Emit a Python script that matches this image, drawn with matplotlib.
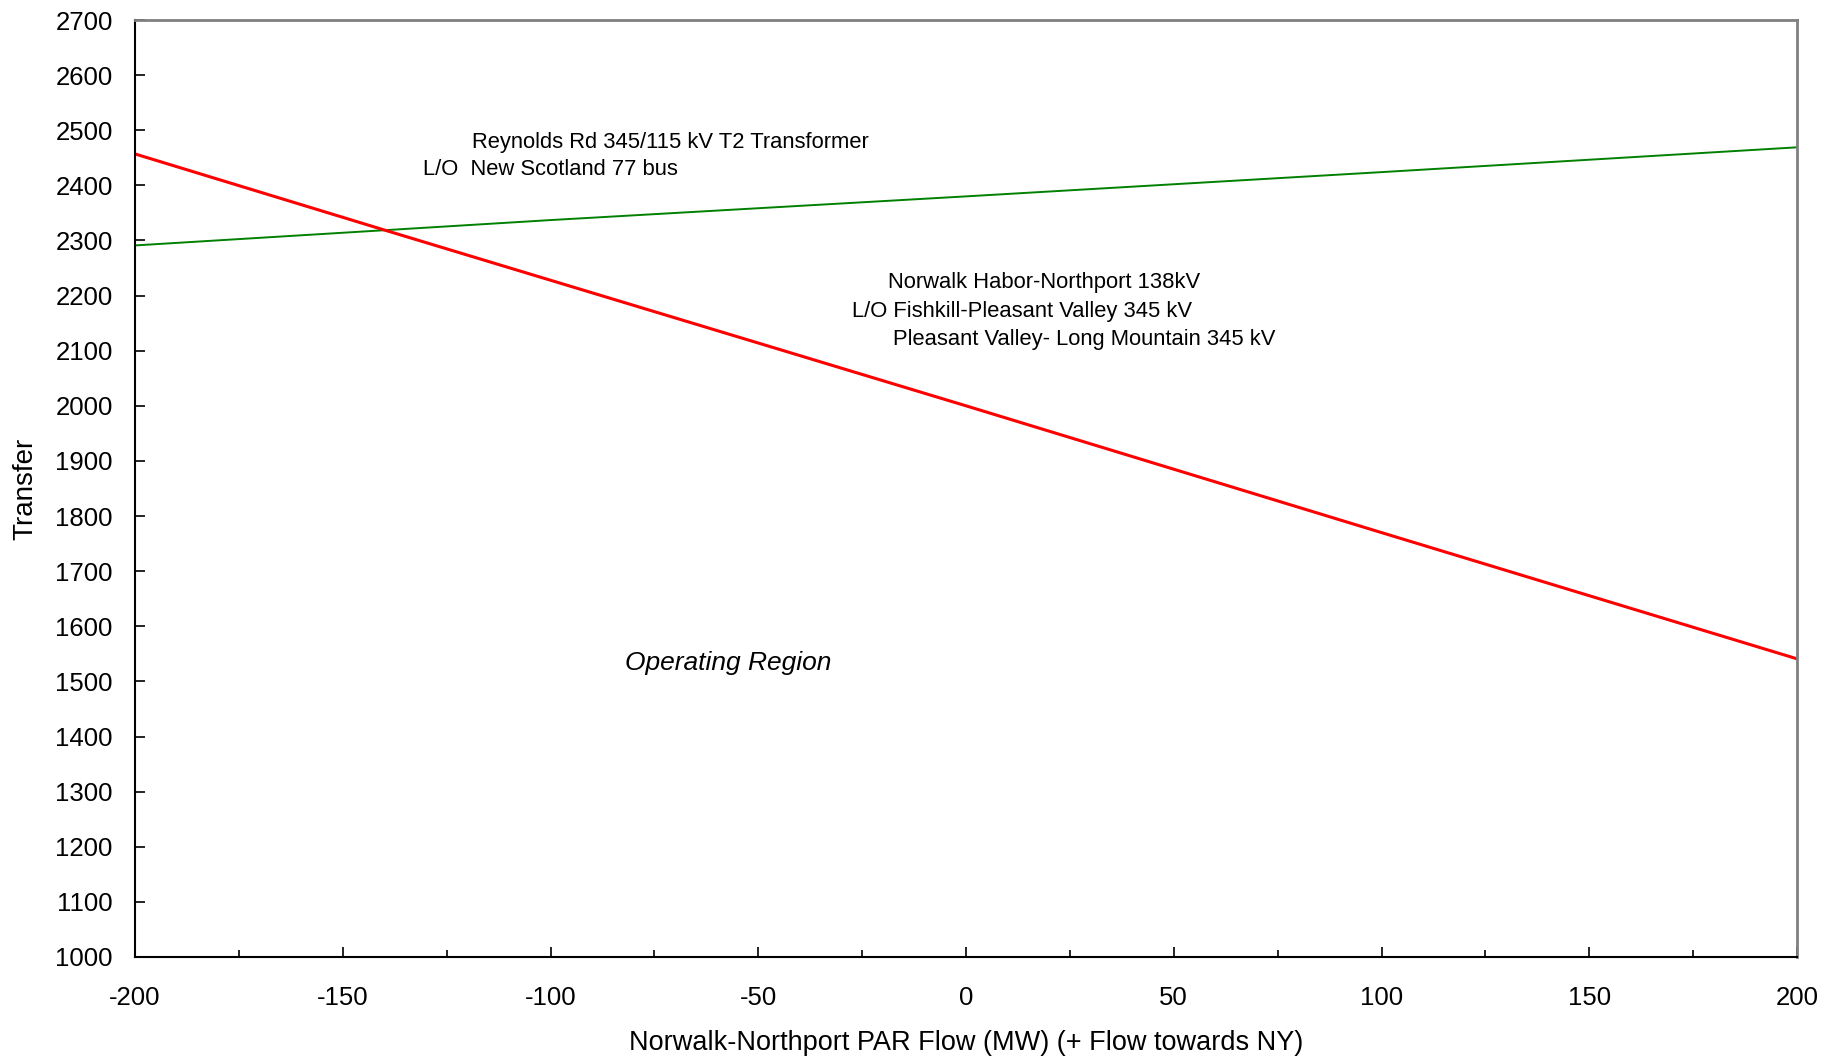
import numpy as np
import matplotlib.pyplot as plt
from matplotlib.ticker import MultipleLocator

plt.rcParams['font.family'] = ['Liberation Sans', 'DejaVu Sans']
plt.rcParams['axes.unicode_minus'] = False

# flow across the Norwalk-Northport PAR (MW)
red_x = [-200, -140, 0, 100, 200]
red_y = [2457, 2319, 2000, 1770, 1541]

green_x = [-200, -100, 0, 100, 200]
green_y = [2291, 2337, 2380, 2424, 2469]

labels = [
    (-119, 2477, "Reynolds Rd 345/115 kV T2 Transformer"),
    (-130.7, 2428, "L/O  New Scotland 77 bus"),
    (-18.8, 2223, "Norwalk Habor-Northport 138kV"),
    (-27.4, 2171, "L/O Fishkill-Pleasant Valley 345 kV"),
    (-17.6, 2121, "Pleasant Valley- Long Mountain 345 kV"),
]

fig = plt.figure(figsize=(18.43, 10.60), dpi=100)
ax = fig.add_axes([135/1843, 1 - 957/1060, (1797-135)/1843, (957-20)/1060])

ax.plot(green_x, green_y, color="#008000", lw=1.4)
ax.plot(red_x, red_y, color="#ff0000", lw=2.2)

for x, y, s in labels:
    ax.text(x, y, s, fontsize=15.8, ha="left", va="center")
ax.text(-82, 1533, "Operating Region", fontsize=19, style="italic", ha="left", va="center")

ax.set_xlim(-200, 200)
ax.set_ylim(1000, 2700)
ax.xaxis.set_major_locator(MultipleLocator(50))
ax.xaxis.set_minor_locator(MultipleLocator(25))
ax.yaxis.set_major_locator(MultipleLocator(100))

ax.tick_params(axis="both", which="both", direction="in", labelsize=18.5)
ax.tick_params(axis="x", which="major", length=7, width=1.2, pad=21)
ax.tick_params(axis="x", which="minor", length=5, width=1.2)
ax.tick_params(axis="y", which="major", length=7, width=1.2, pad=16)

for side in ["left", "bottom"]:
    ax.spines[side].set_color("black")
    ax.spines[side].set_linewidth(1.5)
for side in ["top", "right"]:
    ax.spines[side].set_color("#808080")
    ax.spines[side].set_linewidth(2)

ax.set_xlabel("Norwalk-Northport PAR Flow (MW) (+ Flow towards NY)", fontsize=19.5, labelpad=14)
ax.set_ylabel("Transfer", fontsize=20, labelpad=12)

fig.savefig("out.png", dpi=100)
